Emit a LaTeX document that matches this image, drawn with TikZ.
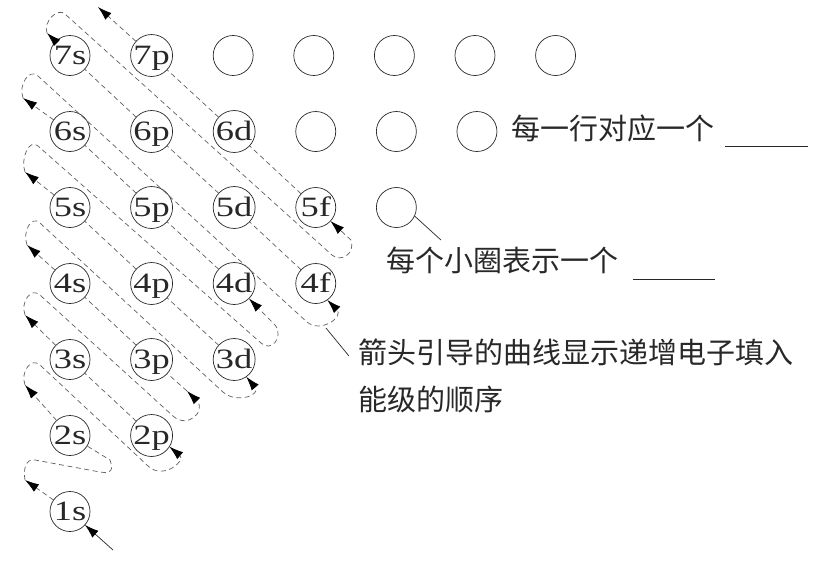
\documentclass[tikz,border=0pt]{standalone}
\usepackage{fontspec}
\setmainfont{Liberation Serif}
\newfontfamily\orbfont[FakeStretch=1.3]{Liberation Serif}
\newfontfamily\cjkfont{Noto Sans CJK SC}
\usepackage{tikz}
\usetikzlibrary{arrows.meta,positioning,calc}
\definecolor{ink}{RGB}{40,40,40}
\definecolor{dashink}{RGB}{95,95,95}
\tikzset{
  orb/.style={circle,draw=ink,line width=0.7pt,minimum size=40pt,inner sep=0pt,outer sep=0pt,
              text height=19pt,text depth=2pt,text=ink,
              font=\orbfont\fontsize{28}{28}\selectfont},
  dline/.style={draw=dashink,line width=0.7pt,dash pattern=on 5pt off 3.5pt},
  pline/.style={draw=ink,line width=0.7pt},
  arr/.style={-{Latex[length=14pt,width=9pt,color=black]}},
  note/.style={inner sep=0pt,text=ink,font=\cjkfont\fontsize{29}{47}\selectfont},
}

\begin{document}
\begin{tikzpicture}[x=1pt,y=1pt,node distance=36pt and 40.6pt]
  \useasboundingbox (0,0) rectangle (836,-565);

  % 轨道
  \node[orb] (1s) at (70,-511.5) {1s};
  \node[orb, above=of 1s] (2s) {2s};
  \node[orb, above=of 2s] (3s) {3s};
  \node[orb, above=of 3s] (4s) {4s};
  \node[orb, above=of 4s] (5s) {5s};
  \node[orb, above=of 5s] (6s) {6s};
  \node[orb, above=of 6s] (7s) {7s};

  \node[orb, right=of 2s] (2p) {2p};
  \node[orb, right=of 3s] (3p) {3p};
  \node[orb, right=of 4s] (4p) {4p};
  \node[orb, right=of 5s] (5p) {5p};
  \node[orb, right=of 6s] (6p) {6p};
  \node[orb, right=of 7s] (7p) {7p};

  \node[orb, right=of 3p] (3d) {3d};
  \node[orb, right=of 4p] (4d) {4d};
  \node[orb, right=of 5p] (5d) {5d};
  \node[orb, right=of 6p] (6d) {6d};
  \node[orb, right=of 4d] (4f) {4f};
  \node[orb, right=of 5d] (5f) {5f};

  % 空圈
  \node[orb, right=of 7p] (e73) {};
  \node[orb, right=of e73] (e74) {};
  \node[orb, right=of e74] (e75) {};
  \node[orb, right=of e75] (e76) {};
  \node[orb, right=of e76] (e77) {};
  \node[orb, right=of 6d] (e64) {};
  \node[orb, right=of e64] (e65) {};
  \node[orb, right=of e65] (e66) {};
  \node[orb, right=of 5f] (e55) {};

  % 转折点
  \coordinate (t1) at ($(1s)+(-45,31.5)$);
  \coordinate (t2) at ($(2s)+(-45,50.5)$);
  \coordinate (t3) at ($(3s)+(-45,44.5)$);
  \coordinate (t4) at ($(4s)+(-43,38.5)$);
  \coordinate (t5) at ($(5s)+(-45,35.5)$);
  \coordinate (t6) at ($(6s)+(-47,33.5)$);
  \coordinate (t7) at ($(7s)+(-23,22.5)$);
  \coordinate (t8) at ($(7p)+(-53.6,48.5)$);

  \coordinate (a1) at ($(t1)+(10,20)$);
  \coordinate (a2) at ($(t2)+(15,20)$);
  \coordinate (a3) at ($(t3)+(15,20)$);
  \coordinate (a4) at ($(t4)+(13,22)$);
  \coordinate (a5) at ($(t5)+(13,26)$);
  \coordinate (a6) at ($(t6)+(15,22)$);
  \coordinate (a7) at ($(t7)+(18,19)$);

  \coordinate (b1) at ($(2s)+(30,-36.5)$);
  \coordinate (r1) at ($(2s)+(40,-24.5)$);
  \coordinate (b2) at ($(2p)+(-3,-31)$);
  \coordinate (b3) at ($(3p)+(21.4,-56.5)$);
  \coordinate (m3) at ($(3p)+(35.4,-31.5)$);
  \coordinate (b4) at ($(3d)+(-11.2,-32.5)$);
  \coordinate (b5) at ($(4d)+(26.8,-59.5)$);
  \coordinate (r5) at ($(4d)+(41.8,-42.5)$);
  \coordinate (b6) at ($(4f)+(-8.8,-38.5)$);
  \coordinate (lp6) at ($(4f)+(10.2,-44.5)$);
  \coordinate (b7) at ($(5f)+(16.2,-47.5)$);
  \coordinate (r7) at ($(5f)+(35.2,-32.5)$);

  \coordinate (s0) at ($(1s)+(43,-38.5)$);
  \coordinate (q1) at ($(e55)+(44.6,-32.5)$);
  \coordinate (q2) at ($(4f)+(33.2,-72.5)$);

  % 斜线
  \draw[dline,arr] (1s) -- (t1);
  \draw[dline,arr] (2s) -- (t2);
  \draw[dline,arr] (2p) -- (3s) -- (t3);
  \draw[dline,arr] (3p) -- (4s) -- (t4);
  \draw[dline,arr] (3d) -- (4p) -- (5s) -- (t5);
  \draw[dline,arr] (4d) -- (5p) -- (6s) -- (t6);
  \draw[dline,arr] (4f) -- (5d) -- (6p) -- (7s) -- (t7);
  \draw[dline,arr] (5f) -- (6d) -- (7p) -- (t8);

  % 回转
  \draw[dline] (t1) .. controls +(100:10) and +(170:10) .. (a1) -- (b1)
    .. controls +(-10:12) and +(-70:10) .. (r1) -- (2s);
  \draw[dline,arr] (t2) .. controls +(110:14) and +(137:12) .. (a2) -- (b2)
    .. controls +(-42:20) and +(-40:22) .. (2p.-32);
  \draw[dline,arr] (t3) .. controls +(110:14) and +(137:12) .. (a3) -- (b3)
    .. controls +(-42:20) and +(-45:28) .. (m3);
  \draw[dline] (m3) -- (3p);
  \draw[dline,arr] (t4) .. controls +(110:14) and +(137:12) .. (a4) -- (b4)
    .. controls +(-42:18) and +(-50:24) .. (3d.-55);
  \draw[dline,arr] (t5) .. controls +(110:14) and +(137:12) .. (a5) -- (b5)
    .. controls +(-42:14) and +(-60:14) .. (r5) -- (4d);
  \draw[dline,arr] (t6) .. controls +(110:14) and +(137:12) .. (a6) -- (b6)
    .. controls +(-40:18) and +(-45:24) .. (4f.-55);
  \draw[dline,arr] (t7) .. controls +(110:12) and +(137:10) .. (a7) -- (b7)
    .. controls +(-42:12) and +(-70:14) .. (r7) -- (5f);

  \draw[pline,arr] (s0) -- (1s);

  % 注释
  \node[note, anchor=base west] (rowtext) at (511,-139)
    {每一行对应一个\hspace{11pt}\rule[-7.5pt]{83pt}{0.7pt}};
  \node[note, anchor=base west] (circtext) at (386,-271)
    {每个小圈表示一个\hspace{15pt}\rule[-8.5pt]{82pt}{0.7pt}};
  \node[note, anchor=west, align=left] (ordertext) at (358,-376)
    {箭头引导的曲线显示递增电子填入\\能级的顺序};
  \draw[pline] (e55.-25) -- (q1);
  \draw[pline] (lp6) -- (q2);
\end{tikzpicture}
\end{document}
